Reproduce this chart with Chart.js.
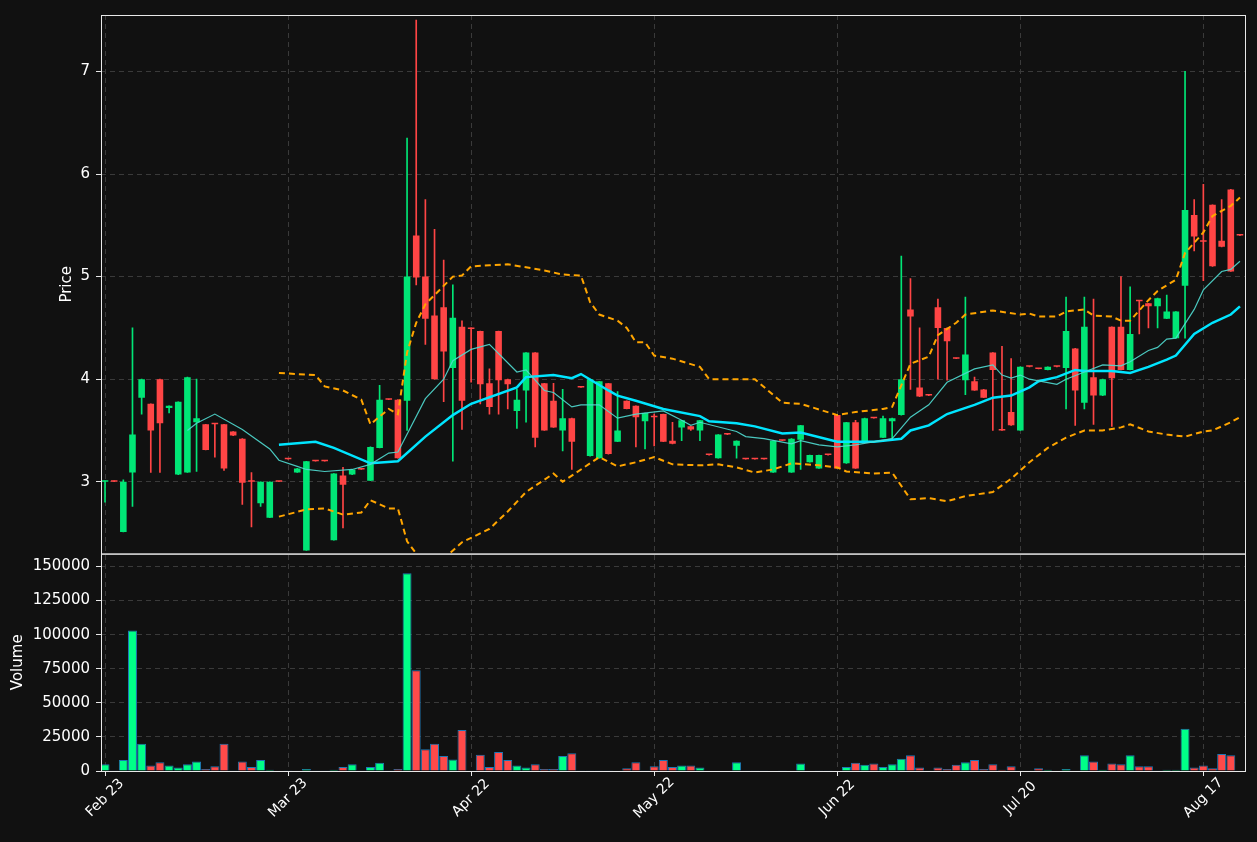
<!DOCTYPE html>
<html>
<head>
<meta charset="utf-8">
<script src="https://cdn.jsdelivr.net/npm/chart.js@4.4.0/dist/chart.umd.min.js"></script>
<style>
  body { margin: 0; background: #111111; }
  #box { position: absolute; left: 0; top: 0; width: 1257px; height: 842px; }
</style>
</head>
<body>
<div id="box"><canvas id="chart"></canvas></div>
<script>
// ---------------- DATA ----------------
const tickIdx = [0, 20, 40, 60, 80, 100, 120];
const tickLabels = ["Feb 23", "Mar 23", "Apr 22", "May 22", "Jun 22", "Jul 20", "Aug 17"];

const opens = [3.00,3.01,2.51,3.09,3.82,3.76,4.00,3.72,3.07,3.09, 3.58,3.56,3.57,3.56,3.49,3.42,3.01,2.79,2.65,3.005,
  3.225,3.09,2.33,3.205,3.205,2.43,3.06,3.07,3.125,3.01, 3.33,3.805,3.80,3.79,5.40,5.00,4.62,4.70,4.11,4.51,
  4.495,4.47,3.96,4.47,4.00,3.69,3.89,4.26,3.96,3.79, 3.50,3.62,3.925,3.25,3.23,3.96,3.39,3.79,3.74,3.59,
  3.635,3.66,3.40,3.53,3.54,3.50,3.265,3.23,3.465,3.35, 3.225,3.225,3.225,3.09,3.405,3.09,3.41,3.19,3.13,3.265,
  3.65,3.18,3.58,3.38,3.625,3.43,3.59,3.65,4.68,3.92, 3.845,4.70,4.50,4.205,3.99,3.98,3.90,4.26,3.505,3.68,
  3.50,4.125,4.105,4.09,4.125,4.11,4.30,3.77,4.02,3.84, 4.51,4.51,4.09,4.765,4.74,4.71,4.59,4.40,4.91,5.60,
  5.345,5.70,5.35,5.85,5.405];
const highs = [3.01,3.01,3.02,4.50,4.00,3.76,4.00,3.74,3.78,4.02, 4.00,3.56,3.57,3.56,3.49,3.42,3.09,3.00,3.00,3.005,
  3.225,3.13,3.20,3.205,3.205,3.08,3.14,3.12,3.125,3.34, 3.94,3.805,3.80,6.35,7.50,5.75,5.46,5.16,4.92,4.57,
  4.50,4.47,4.10,4.47,4.00,3.90,4.26,4.26,3.96,3.96, 3.90,3.62,3.925,4.00,3.98,3.96,3.88,3.79,3.74,3.67,
  3.66,3.66,3.58,3.60,3.54,3.60,3.265,3.46,3.465,3.40, 3.225,3.225,3.225,3.40,3.405,3.42,3.55,3.26,3.26,3.265,
  3.65,3.58,3.60,3.62,3.625,3.64,3.62,5.20,4.98,4.50, 3.845,4.78,4.50,4.205,4.80,4.02,3.90,4.26,4.32,4.20,
  4.12,4.125,4.105,4.12,4.125,4.80,4.30,4.80,4.78,4.00, 4.51,5.00,4.90,4.765,4.74,4.79,4.82,4.66,7.00,5.75,
  5.90,5.70,5.75,5.85,5.405];
const lows = [2.80,3.00,2.51,2.76,3.66,3.09,3.09,3.67,3.07,3.09, 3.10,3.31,3.24,3.11,3.45,2.78,2.56,2.76,2.65,3.00,
  3.22,3.09,2.33,3.20,3.20,2.43,2.55,3.07,3.12,3.01, 3.33,3.80,3.23,3.50,4.92,4.34,4.00,3.78,3.20,3.51,
  3.97,3.76,3.66,3.66,3.71,3.52,3.58,3.34,3.50,3.53, 3.30,3.12,3.92,3.25,3.23,3.27,3.39,3.71,3.34,3.32,
  3.35,3.39,3.37,3.40,3.50,3.40,3.26,3.23,3.46,3.23, 3.22,3.22,3.22,3.09,3.40,3.09,3.12,3.19,3.13,3.26,
  3.13,3.18,3.13,3.38,3.62,3.43,3.42,3.65,3.90,3.83, 3.84,4.00,3.99,4.20,3.85,3.89,3.82,3.50,3.50,3.55,
  3.50,4.12,4.10,4.09,4.12,3.71,3.55,3.71,3.56,3.84, 3.54,4.09,4.09,4.44,4.50,4.50,4.59,4.40,4.40,5.25,
  4.96,5.10,5.29,5.05,5.40];
const closes = [3.01,3.00,3.00,3.46,4.00,3.50,3.57,3.74,3.78,4.02, 3.62,3.31,3.56,3.13,3.45,2.99,3.00,3.00,3.00,3.00,
  3.22,3.13,3.20,3.20,3.20,3.08,2.97,3.12,3.12,3.34, 3.80,3.80,3.23,5.00,4.99,4.59,4.00,4.27,4.60,3.79,
  4.49,3.95,3.73,3.99,3.95,3.80,4.26,3.43,3.50,3.53, 3.62,3.39,3.92,4.00,3.98,3.27,3.50,3.71,3.63,3.67,
  3.63,3.39,3.37,3.60,3.51,3.60,3.26,3.46,3.46,3.40, 3.22,3.22,3.22,3.40,3.40,3.42,3.55,3.26,3.26,3.26,
  3.13,3.58,3.13,3.62,3.62,3.62,3.62,4.00,4.61,3.83, 3.84,4.50,4.37,4.20,4.24,3.89,3.82,4.09,3.50,3.55,
  4.12,4.12,4.10,4.12,4.12,4.47,3.89,4.51,3.84,4.00, 4.01,4.09,4.44,4.76,4.71,4.79,4.66,4.66,5.65,5.39,
  5.34,5.10,5.29,5.05,5.40];
const volumes = [5000,500,8000,103000,20000,4000,6500,4000,2500,5000, 7000,1500,3500,20000,500,7000,3000,8000,1000,300,
  500,300,1500,200,200,1000,3000,5000,200,3000, 6000,200,1500,145000,74000,16000,20000,11000,8500,30000,
  300,12000,3000,14000,8000,4000,2500,5000,1500,1500, 11000,13000,500,200,200,200,300,2000,6500,500,
  3500,8000,3000,4000,4000,2500,300,300,300,6500, 200,200,200,300,200,300,5500,300,500,200,
  300,3000,6000,4500,5500,3000,5000,9000,11500,2500, 300,2500,1500,4500,6500,8000,1500,5000,1000,3500,
  300,300,2000,1000,300,1500,300,11500,7000,1000, 5500,5000,11500,3500,3500,500,1000,1000,31000,2500,
  4000,2000,12500,11500,300];
const volTicks = [0, 25000, 50000, 75000, 100000, 125000, 150000];
const priceTicks = [3, 4, 5, 6, 7];

// moving averages and bands (index, value)
const maFastIdx = [9,10,12,15,18,19,21,22,24,27,29,31,32,35,37,38,40,42,45,46,48,49,51,52,54,56,58,61,63,64,65,69,70,72,75,76,78,80,82,86,88,90,92,95,97,98,99,100,101,104,105,107,109,111,112,114,115,116,117,119,120,122,123,124];
const maFastVal = [3.50,3.57,3.66,3.51,3.32,3.21,3.15,3.12,3.10,3.12,3.17,3.28,3.29,3.81,4.00,4.18,4.29,4.34,4.07,4.09,3.89,3.87,3.73,3.75,3.75,3.62,3.66,3.69,3.60,3.55,3.58,3.49,3.44,3.42,3.37,3.40,3.36,3.34,3.36,3.42,3.63,3.75,3.97,4.10,4.14,4.04,4.01,4.04,4.00,3.95,4.00,4.07,4.14,4.13,4.17,4.28,4.31,4.39,4.40,4.68,4.87,5.05,5.07,5.15];
const maSlowIdx = [19,23,25,29,32,35,38,40,45,46,49,51,52,55,56,58,61,65,66,69,71,74,76,80,84,87,88,90,92,95,97,99,101,102,104,106,107,110,112,114,116,117,119,121,123,124];
const maSlowVal = [3.36,3.39,3.33,3.18,3.20,3.44,3.65,3.76,3.92,4.02,4.04,4.01,4.05,3.89,3.84,3.79,3.71,3.64,3.59,3.57,3.54,3.47,3.48,3.39,3.39,3.42,3.50,3.55,3.66,3.75,3.82,3.84,3.92,3.98,4.02,4.09,4.08,4.08,4.06,4.12,4.19,4.23,4.44,4.55,4.63,4.71];
const bandUpIdx = [19,23,24,26,28,29,31,32,33,34,35,36,38,39,40,42,44,48,50,52,53,54,56,57,58,59,60,62,65,66,71,74,76,80,82,85,86,87,88,90,91,93,94,97,100,101,102,104,105,106,107,108,110,111,112,114,115,117,118,120,121,123,124];
const bandUpVal = [4.06,4.04,3.93,3.89,3.80,3.56,3.71,3.66,4.26,4.55,4.73,4.82,5.00,5.01,5.10,5.11,5.12,5.06,5.02,5.01,4.75,4.63,4.57,4.50,4.36,4.36,4.23,4.20,4.12,4.00,4.00,3.77,3.76,3.65,3.68,3.71,3.73,3.94,4.15,4.22,4.43,4.55,4.63,4.67,4.63,4.64,4.61,4.61,4.66,4.67,4.68,4.62,4.61,4.57,4.57,4.77,4.86,4.97,5.23,5.43,5.59,5.69,5.77];
const bandLowIdx = [19,22,24,26,28,29,31,32,33,34,35,36,37,39,42,44,46,49,50,52,54,56,58,60,62,65,67,69,71,73,75,78,80,81,84,86,88,90,92,94,97,99,101,103,105,107,109,111,112,114,116,118,120,121,123,124];
const bandLowVal = [2.66,2.73,2.74,2.68,2.70,2.82,2.74,2.74,2.42,2.30,2.22,2.20,2.25,2.41,2.54,2.71,2.90,3.08,3.00,3.12,3.24,3.15,3.19,3.24,3.17,3.16,3.17,3.14,3.09,3.12,3.18,3.16,3.14,3.10,3.08,3.09,2.83,2.84,2.81,2.86,2.90,3.03,3.19,3.33,3.43,3.50,3.50,3.53,3.56,3.49,3.46,3.44,3.49,3.50,3.58,3.63];

// ---------------- STYLE ----------------
const UP = "#00e676", DOWN = "#ff4545";
const VUP = "#00ff88", VDOWN = "#ff4a4a";
const GRID = "#3a3a3a";

const idx = opens.map((_, i) => i);
const isUp = idx.map(i => closes[i] >= opens[i]);
const toPts = (xs, ys) => xs.map((x, i) => ({ x, y: ys[i] }));

const rotText = (ctx, t, x, y) => {
  ctx.save();
  ctx.translate(x, y);
  ctx.rotate(-Math.PI / 2);
  ctx.fillText(t, 0, 0);
  ctx.restore();
};

// panel frames, axis titles, centred date labels
const framePlugin = {
  id: "frame",
  afterDraw(chart) {
    const { ctx, chartArea: a, scales } = chart;
    ctx.save();
    ctx.strokeStyle = "#e8e8e8";
    ctx.lineWidth = 1;
    [scales.y, scales.yv].forEach(s => ctx.strokeRect(a.left + 0.5, s.top + 0.5, a.right - a.left - 1, s.bottom - s.top));
    ctx.fillStyle = "#ffffff";
    ctx.font = "15px 'DejaVu Sans'";
    ctx.textAlign = "center";
    ctx.textBaseline = "middle";
    rotText(ctx, "Price", 67, (scales.y.top + scales.y.bottom) / 2);
    rotText(ctx, "Volume", 18, (scales.yv.top + scales.yv.bottom) / 2);
    ctx.font = "14px 'DejaVu Sans'";
    tickIdx.forEach((v, i) => {
      ctx.save();
      ctx.translate(scales.x.getPixelForValue(v), a.bottom + 27);
      ctx.rotate(-Math.PI / 4);
      ctx.fillText(tickLabels[i], 0, 0);
      ctx.restore();
    });
    ctx.restore();
  }
};

Chart.defaults.animation = false;
Chart.defaults.font.family = "DejaVu Sans";

new Chart(document.getElementById("chart"), {
  data: {
    datasets: [
      { type: "bar", yAxisID: "y", data: idx.map(i => ({ x: i, y: [lows[i], highs[i]] })),
        backgroundColor: idx.map(i => isUp[i] ? UP : DOWN), barThickness: 1, order: 3 },
      { type: "bar", yAxisID: "y", data: idx.map(i => ({ x: i, y: [opens[i], closes[i]] })),
        backgroundColor: idx.map(i => isUp[i] ? UP : DOWN), barPercentage: 0.72, categoryPercentage: 1,
        minBarLength: 1.5, order: 2 },
      { type: "line", yAxisID: "y", data: toPts(maFastIdx, maFastVal), borderColor: "rgba(80,220,210,0.9)", borderWidth: 1.2, order: 1 },
      { type: "line", yAxisID: "y", data: toPts(maSlowIdx, maSlowVal), borderColor: "#00e5ff", borderWidth: 2.5, order: 1 },
      { type: "line", yAxisID: "y", data: toPts(bandUpIdx, bandUpVal), borderColor: "#ffa500", borderWidth: 2, borderDash: [6, 4], order: 1 },
      { type: "line", yAxisID: "y", data: toPts(bandLowIdx, bandLowVal), borderColor: "#ffa500", borderWidth: 2, borderDash: [6, 4], order: 1 },
      { type: "bar", yAxisID: "yv", data: idx.map(i => ({ x: i, y: volumes[i] })),
        backgroundColor: idx.map(i => isUp[i] ? VUP : VDOWN), borderColor: "#1f77b4", borderWidth: 1,
        barPercentage: 1, categoryPercentage: 0.98, order: 4 }
    ]
  },
  options: {
    responsive: true, maintainAspectRatio: false,
    layout: { padding: { top: 6, right: 11, bottom: 0, left: 0 } },
    datasets: { bar: { grouped: false }, line: { pointRadius: 0, tension: 0 } },
    plugins: { legend: { display: false }, tooltip: { enabled: false } },
    scales: {
      x: {
        type: "linear", min: -0.44, max: 124.66, offset: false,
        afterBuildTicks: s => { s.ticks = tickIdx.map(v => ({ value: v })); },
        afterFit: s => { s.height = 71; },
        grid: { color: GRID, tickColor: "#e8e8e8", tickLength: 5, offset: false },
        border: { display: false, dash: [5, 4] },
        ticks: { display: false }
      },
      yv: {
        position: "left", stack: "panels", stackWeight: 218,
        min: 0, max: 159500,
        afterBuildTicks: s => { s.ticks = volTicks.map(v => ({ value: v })); },
        afterFit: s => { s.width = 101; },
        grid: { color: GRID, tickColor: "#e8e8e8", tickLength: 5 },
        border: { display: false, dash: [5, 4] },
        ticks: { color: "#ffffff", font: { size: 15 }, padding: 6, autoSkip: false, callback: v => String(v) }
      },
      y: {
        position: "left", stack: "panels", stackWeight: 540,
        min: 2.30, max: 7.55,
        afterBuildTicks: s => { s.ticks = priceTicks.map(v => ({ value: v })); },
        afterFit: s => { s.width = 101; },
        grid: { color: GRID, tickColor: "#e8e8e8", tickLength: 5 },
        border: { display: false, dash: [5, 4] },
        ticks: { color: "#ffffff", font: { size: 15 }, padding: 6, autoSkip: false }
      }
    }
  },
  plugins: [framePlugin]
});
</script>
</body>
</html>
